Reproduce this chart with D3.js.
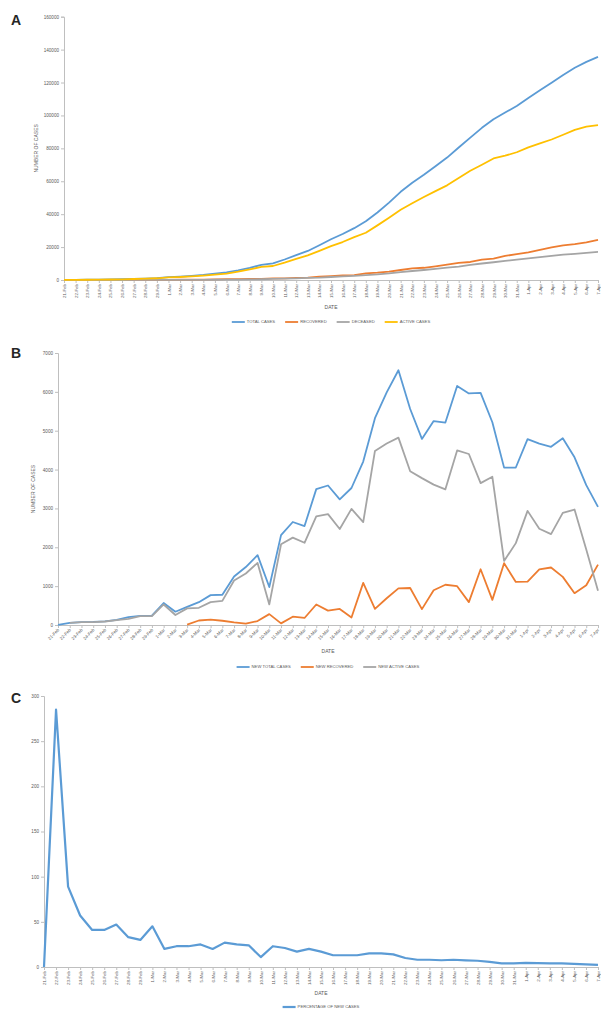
<!DOCTYPE html>
<html>
<head>
<meta charset="utf-8">
<script src="https://cdn.jsdelivr.net/npm/d3@7"></script>
<style>
  body { margin: 0; background: #fff; }
  svg { display: block; font-family: "Liberation Sans", Arial, sans-serif; }
  .tick text { fill: #595959; }
</style>
</head>
<body>
<svg id="chart" width="601" height="1010"></svg>
<script>
// categories
const dates = [
  "21-Feb", "22-Feb", "23-Feb", "24-Feb", "25-Feb", "26-Feb", "27-Feb", "28-Feb", "29-Feb",
  "1-Mar", "2-Mar", "3-Mar", "4-Mar", "5-Mar", "6-Mar", "7-Mar", "8-Mar", "9-Mar", "10-Mar",
  "11-Mar", "12-Mar", "13-Mar", "14-Mar", "15-Mar", "16-Mar", "17-Mar", "18-Mar", "19-Mar",
  "20-Mar", "21-Mar", "22-Mar", "23-Mar", "24-Mar", "25-Mar", "26-Mar", "27-Mar", "28-Mar",
  "29-Mar", "30-Mar", "31-Mar", "1-Apr", "2-Apr", "3-Apr", "4-Apr", "5-Apr", "6-Apr", "7-Apr"
];

// panel A - cumulative
const totalCases = [20, 77, 150, 229, 322, 453, 655, 888, 1128,
  1694, 2036, 2502, 3089, 3858, 4636, 5883, 7375, 9172, 10149,
  12462, 15113, 17660, 21157, 24747, 27980, 31506, 35713, 41035, 47021,
  53578, 59138, 63927, 69176, 74386, 80539, 86498, 92472, 97689, 101739,
  105792, 110574, 115242, 119827, 124632, 128948, 132547, 135586];
const recovered = [0, 0, 0, 1, 1, 3, 45, 46, 50,
  83, 149, 160, 276, 414, 523, 589, 622, 724, 1004,
  1045, 1258, 1439, 1966, 2335, 2749, 2941, 4025, 4440, 5129,
  6072, 7024, 7432, 8326, 9362, 10361, 10950, 12384, 13030, 14620,
  15729, 16847, 18278, 19758, 20996, 21815, 22837, 24392];
const deceased = [1, 2, 3, 7, 10, 12, 17, 21, 29,
  34, 52, 79, 107, 148, 197, 233, 366, 463, 631,
  827, 1016, 1266, 1441, 1809, 2158, 2503, 2978, 3405, 4032,
  4825, 5476, 6077, 6820, 7503, 8165, 9134, 10023, 10779, 11591,
  12428, 13155, 13915, 14681, 15362, 15887, 16523, 17127];
const activeCases = [19, 75, 147, 221, 311, 438, 593, 821, 1049,
  1577, 1835, 2263, 2706, 3296, 3916, 5061, 6387, 7985, 8514,
  10590, 12839, 14955, 17750, 20603, 23073, 26062, 28710, 33190, 37860,
  42681, 46638, 50418, 54030, 57521, 62013, 66414, 70065, 73880, 75528,
  77635, 80572, 83049, 85388, 88274, 91246, 93187, 94067];

// panel B - daily
const newTotalCases = [5, 57, 73, 79, 93, 131, 202, 233, 240,
  566, 342, 466, 587, 769, 778, 1247, 1492, 1797, 977,
  2313, 2651, 2547, 3497, 3590, 3233, 3526, 4207, 5322, 5986,
  6557, 5560, 4789, 5249, 5210, 6153, 5959, 5974, 5217, 4050,
  4053, 4782, 4668, 4585, 4805, 4316, 3599, 3039];
const newRecovered = [null, null, null, null, null, null, null, null, null,
  null, null, 11, 116, 138, 109, 66, 33, 102, 280,
  41, 213, 181, 527, 369, 414, 192, 1084, 415, 689,
  943, 952, 408, 894, 1036, 999, 589, 1434, 646, 1590,
  1109, 1118, 1431, 1480, 1238, 819, 1022, 1555];
const newActiveCases = [null, 56, 72, 74, 90, 127, 155, 228, 228,
  528, 258, 428, 443, 590, 620, 1145, 1326, 1598, 529,
  2076, 2249, 2116, 2795, 2853, 2470, 2989, 2648, 4480, 4670,
  4821, 3957, 3780, 3612, 3491, 4492, 4401, 3651, 3815, 1648,
  2107, 2937, 2477, 2339, 2886, 2972, 1941, 880];

// panel C - percentage
const pctNewCases = [0, 285, 89, 57, 41, 41, 47, 33, 30,
  45, 20, 23, 23, 25, 20, 27, 25, 24, 11,
  23, 21, 17, 20, 17, 13, 13, 13, 15, 15,
  14, 10, 8, 8, 7.5, 8, 7.4, 6.9, 5.6, 4.1,
  4.0, 4.5, 4.2, 4.0, 4.0, 3.5, 2.8, 2.3];

const BLUE = "#5b9bd5", ORANGE = "#ed7d31", GRAY = "#a5a5a5", YELLOW = "#ffc000";
const AXIS = "#bfbfbf";

const svg = d3.select("#chart");

function drawPanel(opt) {
  const g = svg.append("g");
  const x = d3.scalePoint().domain(dates).range([opt.left, opt.right]);
  const y = d3.scaleLinear().domain([0, opt.yMax]).range([opt.bottom, opt.top]);

  // y axis
  const gy = g.append("g")
      .attr("transform", "translate(" + opt.left + ",0)")
      .call(d3.axisLeft(y).tickValues(d3.range(0, opt.yMax + 1, opt.yStep))
          .tickSize(3).tickPadding(2).tickFormat(d3.format("d")));
  gy.select(".domain").attr("stroke", AXIS);
  gy.selectAll(".tick line").attr("stroke", AXIS);
  gy.selectAll(".tick text").attr("font-size", 4.6);

  // x axis
  const gx = g.append("g")
      .attr("transform", "translate(0," + opt.bottom + ")")
      .call(d3.axisBottom(x).tickSize(3).tickSizeOuter(0).tickPadding(2));
  gx.select(".domain").attr("stroke", AXIS);
  gx.selectAll(".tick line").attr("stroke", AXIS);
  const tx = gx.selectAll(".tick text").attr("font-size", 4.4).style("text-anchor", "end");
  if (opt.rotate === -90) {
    tx.attr("transform", "rotate(-90)").attr("x", -4).attr("y", 0).attr("dy", "0.35em");
  } else {
    tx.attr("transform", "rotate(-45)").attr("x", -3).attr("y", 3).attr("dy", "0.35em");
  }

  // series
  const line = d3.line()
      .defined(d => d !== null)
      .x((d, i) => x(dates[i]))
      .y(d => y(d));
  opt.series.forEach(s => {
    g.append("path")
        .datum(s.values)
        .attr("fill", "none")
        .attr("stroke", s.color)
        .attr("stroke-width", opt.lineWidth)
        .attr("stroke-linejoin", "round")
        .attr("d", line);
  });

  // panel letter
  g.append("text")
      .attr("x", 11).attr("y", opt.letterY)
      .attr("font-size", 14).attr("font-weight", "bold").attr("fill", "#262626")
      .text(opt.letter);

  // axis titles
  if (opt.yTitle) {
    g.append("text")
        .attr("transform", "translate(" + opt.yTitleX + "," + ((opt.top + opt.bottom) / 2) + ") rotate(-90)")
        .attr("text-anchor", "middle").attr("font-size", 5).attr("fill", "#595959")
        .text(opt.yTitle);
  }
  g.append("text")
      .attr("x", (opt.left + opt.right) / 2).attr("y", opt.dateY)
      .attr("text-anchor", "middle").attr("font-size", 5).attr("fill", "#595959")
      .text("DATE");

  // legend
  const lg = g.append("g");
  let cx = 0;
  opt.series.forEach(s => {
    lg.append("line")
        .attr("x1", cx).attr("x2", cx + 13)
        .attr("y1", 0).attr("y2", 0)
        .attr("stroke", s.color).attr("stroke-width", opt.lineWidth);
    const t = lg.append("text")
        .attr("x", cx + 15).attr("y", 0).attr("dy", "0.35em")
        .attr("font-size", 4.2).attr("fill", "#595959")
        .text(s.name);
    cx += 15 + t.node().getComputedTextLength() + 10;
  });
  cx -= 10;
  lg.attr("transform", "translate(" + ((opt.left + opt.right) / 2 - cx / 2) + "," + opt.legendY + ")");
}

drawPanel({
  letter: "A", letterY: 25,
  left: 64, right: 598, top: 16.7, bottom: 280,
  yMax: 160000, yStep: 20000,
  yTitle: "NUMBER OF CASES", yTitleX: 38,
  rotate: -90, dateY: 309, legendY: 322, lineWidth: 1.8,
  series: [
    {name: "TOTAL CASES", color: BLUE, values: totalCases},
    {name: "RECOVERED", color: ORANGE, values: recovered},
    {name: "DECEASED", color: GRAY, values: deceased},
    {name: "ACTIVE CASES", color: YELLOW, values: activeCases}
  ]
});

drawPanel({
  letter: "B", letterY: 358,
  left: 58, right: 598, top: 353, bottom: 625,
  yMax: 7000, yStep: 1000,
  yTitle: "NUMBER OF CASES", yTitleX: 35,
  rotate: -45, dateY: 653, legendY: 667, lineWidth: 1.8,
  series: [
    {name: "NEW TOTAL CASES", color: BLUE, values: newTotalCases},
    {name: "NEW RECOVERED", color: ORANGE, values: newRecovered},
    {name: "NEW ACTIVE CASES", color: GRAY, values: newActiveCases}
  ]
});

drawPanel({
  letter: "C", letterY: 703,
  left: 44, right: 598, top: 696, bottom: 967,
  yMax: 300, yStep: 50,
  yTitle: null,
  rotate: -90, dateY: 995, legendY: 1007, lineWidth: 2.2,
  series: [
    {name: "PERCENTAGE OF NEW CASES", color: BLUE, values: pctNewCases}
  ]
});
</script>
</body>
</html>
